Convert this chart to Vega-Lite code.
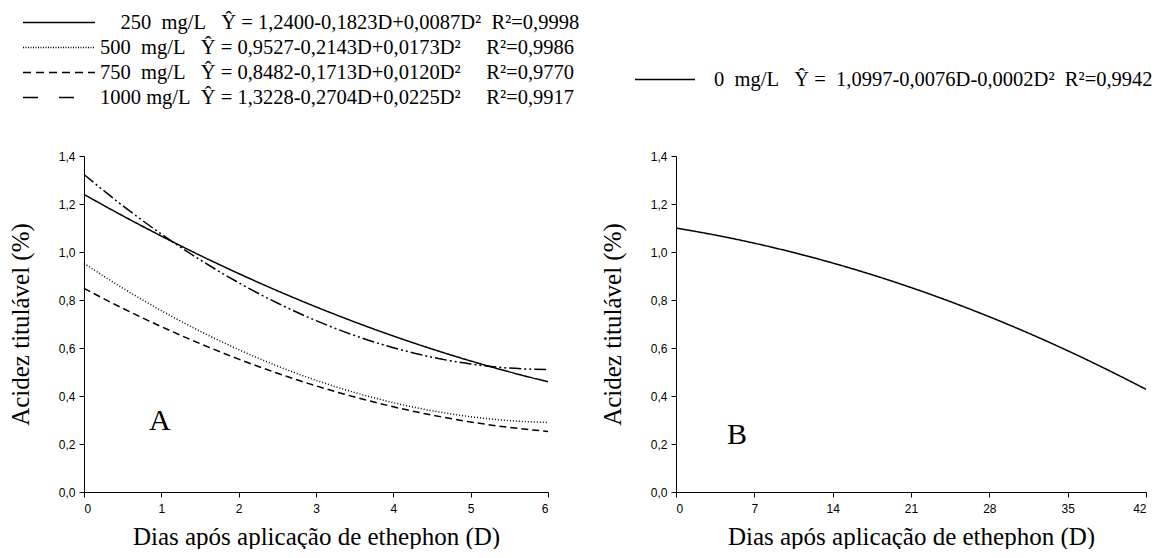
{
  "$schema": "https://vega.github.io/schema/vega-lite/v6.json",
  "background": "white",
  "padding": {"left": 8, "top": 10, "right": 0, "bottom": 0},
  "bounds": "flush",
  "spacing": 128,
  "config": {
    "view": {"stroke": null},
    "axis": {
      "grid": false,
      "domainColor": "black",
      "tickColor": "black",
      "labelColor": "black",
      "titleColor": "black",
      "tickSize": 5,
      "labelFont": "Liberation Sans",
      "labelFontSize": 12,
      "titleFont": "Liberation Serif",
      "titleFontSize": 25,
      "titleFontWeight": "normal"
    },
    "legend": {
      "orient": "none",
      "title": null,
      "symbolType": "stroke",
      "symbolStrokeColor": "black",
      "symbolStrokeWidth": 1.5,
      "labelFont": "Liberation Serif",
      "labelFontSize": 20.5,
      "labelColor": "black",
      "labelLimit": 0,
      "clipHeight": 25,
      "rowPadding": 0,
      "padding": 0
    }
  },
  "datasets": {
    "a": [
      {"D": 0, "Y": 1.2400, "dose": "250 mg/L"},
      {"D": 0.5, "Y": 1.1510, "dose": "250 mg/L"},
      {"D": 1, "Y": 1.0664, "dose": "250 mg/L"},
      {"D": 1.5, "Y": 0.9861, "dose": "250 mg/L"},
      {"D": 2, "Y": 0.9102, "dose": "250 mg/L"},
      {"D": 2.5, "Y": 0.8386, "dose": "250 mg/L"},
      {"D": 3, "Y": 0.7714, "dose": "250 mg/L"},
      {"D": 3.5, "Y": 0.7085, "dose": "250 mg/L"},
      {"D": 4, "Y": 0.6500, "dose": "250 mg/L"},
      {"D": 4.5, "Y": 0.5958, "dose": "250 mg/L"},
      {"D": 5, "Y": 0.5460, "dose": "250 mg/L"},
      {"D": 5.5, "Y": 0.5005, "dose": "250 mg/L"},
      {"D": 6, "Y": 0.4594, "dose": "250 mg/L"},
      {"D": 0, "Y": 0.9527, "dose": "500 mg/L"},
      {"D": 0.5, "Y": 0.8499, "dose": "500 mg/L"},
      {"D": 1, "Y": 0.7557, "dose": "500 mg/L"},
      {"D": 1.5, "Y": 0.6702, "dose": "500 mg/L"},
      {"D": 2, "Y": 0.5933, "dose": "500 mg/L"},
      {"D": 2.5, "Y": 0.5251, "dose": "500 mg/L"},
      {"D": 3, "Y": 0.4655, "dose": "500 mg/L"},
      {"D": 3.5, "Y": 0.4146, "dose": "500 mg/L"},
      {"D": 4, "Y": 0.3723, "dose": "500 mg/L"},
      {"D": 4.5, "Y": 0.3387, "dose": "500 mg/L"},
      {"D": 5, "Y": 0.3137, "dose": "500 mg/L"},
      {"D": 5.5, "Y": 0.2974, "dose": "500 mg/L"},
      {"D": 6, "Y": 0.2897, "dose": "500 mg/L"},
      {"D": 0, "Y": 0.8482, "dose": "750 mg/L"},
      {"D": 0.5, "Y": 0.7656, "dose": "750 mg/L"},
      {"D": 1, "Y": 0.6889, "dose": "750 mg/L"},
      {"D": 1.5, "Y": 0.6183, "dose": "750 mg/L"},
      {"D": 2, "Y": 0.5536, "dose": "750 mg/L"},
      {"D": 2.5, "Y": 0.4950, "dose": "750 mg/L"},
      {"D": 3, "Y": 0.4423, "dose": "750 mg/L"},
      {"D": 3.5, "Y": 0.3957, "dose": "750 mg/L"},
      {"D": 4, "Y": 0.3550, "dose": "750 mg/L"},
      {"D": 4.5, "Y": 0.3204, "dose": "750 mg/L"},
      {"D": 5, "Y": 0.2917, "dose": "750 mg/L"},
      {"D": 5.5, "Y": 0.2691, "dose": "750 mg/L"},
      {"D": 6, "Y": 0.2524, "dose": "750 mg/L"},
      {"D": 0, "Y": 1.3228, "dose": "1000 mg/L"},
      {"D": 0.5, "Y": 1.1932, "dose": "1000 mg/L"},
      {"D": 1, "Y": 1.0749, "dose": "1000 mg/L"},
      {"D": 1.5, "Y": 0.9678, "dose": "1000 mg/L"},
      {"D": 2, "Y": 0.8720, "dose": "1000 mg/L"},
      {"D": 2.5, "Y": 0.7874, "dose": "1000 mg/L"},
      {"D": 3, "Y": 0.7141, "dose": "1000 mg/L"},
      {"D": 3.5, "Y": 0.6520, "dose": "1000 mg/L"},
      {"D": 4, "Y": 0.6012, "dose": "1000 mg/L"},
      {"D": 4.5, "Y": 0.5616, "dose": "1000 mg/L"},
      {"D": 5, "Y": 0.5333, "dose": "1000 mg/L"},
      {"D": 5.5, "Y": 0.5162, "dose": "1000 mg/L"},
      {"D": 6, "Y": 0.5104, "dose": "1000 mg/L"}
    ],
    "b": [
      {"D": 0, "Y": 1.0997, "dose": "0 mg/L"},
      {"D": 3.5, "Y": 1.0707, "dose": "0 mg/L"},
      {"D": 7, "Y": 1.0367, "dose": "0 mg/L"},
      {"D": 10.5, "Y": 0.9979, "dose": "0 mg/L"},
      {"D": 14, "Y": 0.9541, "dose": "0 mg/L"},
      {"D": 17.5, "Y": 0.9055, "dose": "0 mg/L"},
      {"D": 21, "Y": 0.8519, "dose": "0 mg/L"},
      {"D": 24.5, "Y": 0.7935, "dose": "0 mg/L"},
      {"D": 28, "Y": 0.7301, "dose": "0 mg/L"},
      {"D": 31.5, "Y": 0.6619, "dose": "0 mg/L"},
      {"D": 35, "Y": 0.5887, "dose": "0 mg/L"},
      {"D": 38.5, "Y": 0.5106, "dose": "0 mg/L"},
      {"D": 42, "Y": 0.4277, "dose": "0 mg/L"}
    ]
  },
  "hconcat": [
    {
      "width": 464,
      "height": 336,
      "layer": [
        {
          "data": {"name": "a"},
          "mark": {"type": "line", "color": "black", "strokeWidth": 1.5, "interpolate": "monotone"},
          "encoding": {
            "x": {"field": "D", "type": "quantitative",
                  "scale": {"domain": [0, 6], "nice": false},
                  "axis": {"values": [0, 1, 2, 3, 4, 5, 6], "format": "d", "labelPadding": 6, "titlePadding": 10, "titleFont": "Liberation Serif", "titleFontSize": 25},
                  "title": "Dias após aplicação de ethephon (D)"},
            "y": {"field": "Y", "type": "quantitative",
                  "scale": {"domain": [0, 1.4], "nice": false},
                  "axis": {"values": [0, 0.2, 0.4, 0.6, 0.8, 1.0, 1.2, 1.4], "format": ".1f", "labelExpr": "replace(datum.label, '.', ',')", "labelPadding": 4, "titlePadding": 25, "titleFont": "Liberation Serif", "titleFontSize": 25},
                  "title": "Acidez titulável (%)"},
            "strokeDash": {"field": "dose", "type": "nominal",
                  "scale": {"domain": ["250 mg/L", "500 mg/L", "750 mg/L", "1000 mg/L"],
                            "range": [[1, 0], [1, 2], [7, 4], [12, 3, 2, 3, 2, 3]]},
                  "legend": null}
          }
        },
        {
          "data": {"name": "a"},
          "transform": [{"filter": "false"}],
          "mark": {"type": "line", "color": "black", "strokeWidth": 1.5},
          "encoding": {
            "x": {"field": "D", "type": "quantitative"},
            "y": {"field": "Y", "type": "quantitative"},
            "strokeDash": {"field": "dose", "type": "nominal",
                  "scale": {"domain": ["250 mg/L", "500 mg/L", "750 mg/L", "1000 mg/L"],
                            "range": [[1, 0], [1, 1.5], [8, 5], [15, 21]]},
                  "legend": {
                    "legendX": -62,
                    "legendY": -146,
                    "symbolSize": 5184,
                    "labelOffset": 4,
                    "labelExpr": "datum.value == '250 mg/L' ? '\u200b\u00a0\u00a0\u00a0\u00a0250\u00a0\u00a0mg/L\u00a0\u00a0\u00a0Ŷ = 1,2400-0,1823D+0,0087D²\u00a0\u00a0R²=0,9998' : datum.value == '500 mg/L' ? '500\u00a0\u00a0mg/L\u00a0\u00a0\u00a0Ŷ = 0,9527-0,2143D+0,0173D²\u00a0\u00a0\u00a0\u00a0\u00a0R²=0,9986' : datum.value == '750 mg/L' ? '750\u00a0\u00a0mg/L\u00a0\u00a0\u00a0Ŷ = 0,8482-0,1713D+0,0120D²\u00a0\u00a0\u00a0\u00a0\u00a0R²=0,9770' : '1000 mg/L\u00a0\u00a0Ŷ = 1,3228-0,2704D+0,0225D²\u00a0\u00a0\u00a0\u00a0\u00a0R²=0,9917'"
                  }}
          }
        },
        {
          "data": {"values": [{}]},
          "mark": {"type": "text", "font": "Liberation Serif", "fontSize": 30, "align": "center", "baseline": "alphabetic", "color": "black"},
          "encoding": {
            "x": {"datum": 0.98, "type": "quantitative"},
            "y": {"datum": 0.26, "type": "quantitative"},
            "text": {"value": "A"}
          }
        }
      ],
      "resolve": {"scale": {"strokeDash": "independent"}, "legend": {"strokeDash": "independent"}}
    },
    {
      "width": 470,
      "height": 336,
      "layer": [
        {
          "data": {"name": "b"},
          "mark": {"type": "line", "color": "black", "strokeWidth": 1.5, "interpolate": "monotone"},
          "encoding": {
            "x": {"field": "D", "type": "quantitative",
                  "scale": {"domain": [0, 42], "nice": false},
                  "axis": {"values": [0, 7, 14, 21, 28, 35, 42], "format": "d", "labelPadding": 6, "titlePadding": 10, "titleFont": "Liberation Serif", "titleFontSize": 25},
                  "title": "Dias após aplicação de ethephon (D)"},
            "y": {"field": "Y", "type": "quantitative",
                  "scale": {"domain": [0, 1.4], "nice": false},
                  "axis": {"values": [0, 0.2, 0.4, 0.6, 0.8, 1.0, 1.2, 1.4], "format": ".1f", "labelExpr": "replace(datum.label, '.', ',')", "labelPadding": 4, "titlePadding": 25, "titleFont": "Liberation Serif", "titleFontSize": 25},
                  "title": "Acidez titulável (%)"},
            "strokeDash": {"field": "dose", "type": "nominal",
                  "scale": {"domain": ["0 mg/L"], "range": [[1, 0]]},
                  "legend": {
                    "legendX": -42,
                    "legendY": -89,
                    "symbolSize": 3600,
                    "labelOffset": 18,
                    "labelExpr": "'0\u00a0\u00a0mg/L\u00a0\u00a0\u00a0Ŷ =\u00a0\u00a01,0997-0,0076D-0,0002D²\u00a0\u00a0R²=0,9942'"
                  }}
          }
        },
        {
          "data": {"values": [{}]},
          "mark": {"type": "text", "font": "Liberation Serif", "fontSize": 30, "align": "center", "baseline": "alphabetic", "color": "black"},
          "encoding": {
            "x": {"datum": 5.45, "type": "quantitative"},
            "y": {"datum": 0.2, "type": "quantitative"},
            "text": {"value": "B"}
          }
        }
      ]
    }
  ],
  "resolve": {"scale": {"strokeDash": "independent", "x": "independent", "y": "independent"}, "legend": {"strokeDash": "independent"}}
}
